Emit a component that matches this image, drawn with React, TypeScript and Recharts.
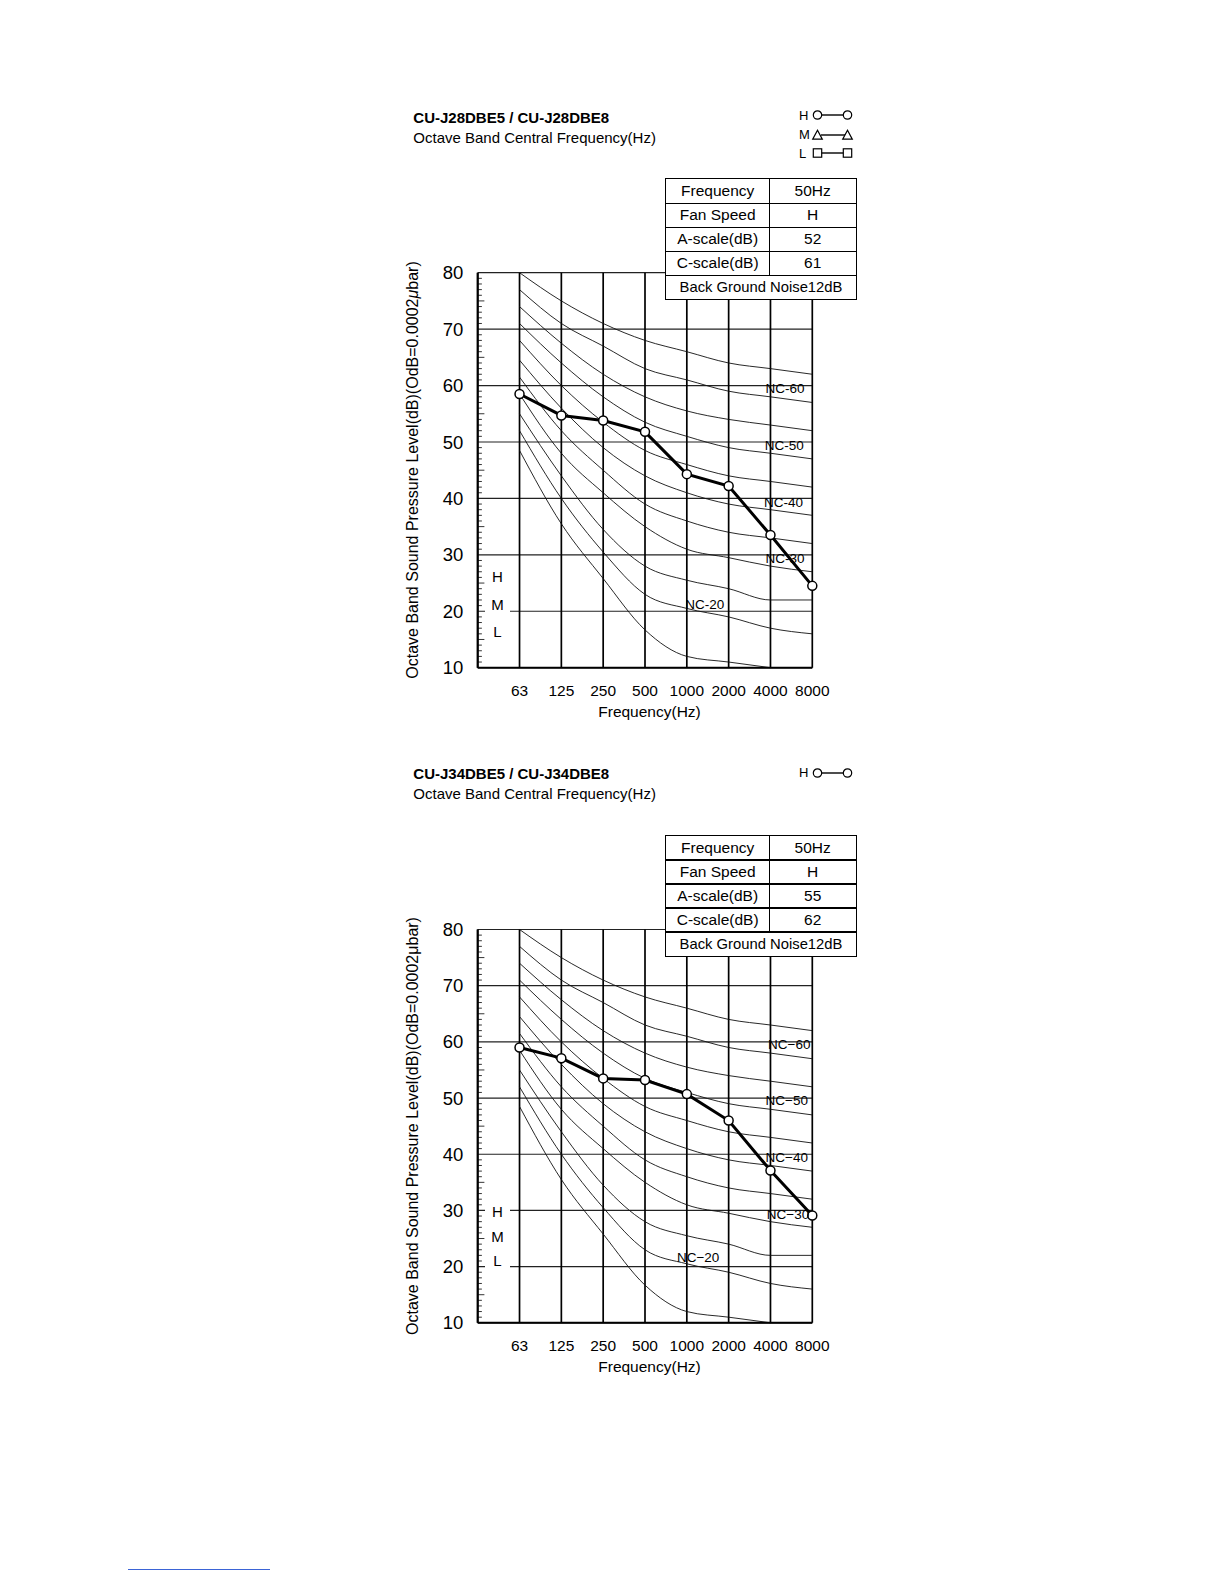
import React from "react";
import { LineChart, Line, XAxis, YAxis, CartesianGrid, ReferenceDot, ReferenceLine } from "recharts";

const FONT = '"Liberation Sans", Arial, Helvetica, sans-serif';

// octave band centres
const freqLabels = ["63", "125", "250", "500", "1000", "2000", "4000", "8000"];
const yTicks = [10, 20, 30, 40, 50, 60, 70, 80];

// NC curves (dB at each octave band)
const nc65 = [80, 75, 71, 68, 66, 64, 63, 62];
const nc60 = [77, 71, 67, 63, 61, 59, 58, 57];
const nc55 = [74, 67.5, 62, 58, 55.5, 54, 53, 52];
const nc50 = [71, 64, 58, 53.5, 51, 49, 48, 47];
const nc45 = [68, 60, 53.5, 48.5, 46, 44, 43, 42];
const nc40 = [64.5, 56, 49, 44, 41, 39, 38, 37];
const nc35 = [61.5, 52, 45, 39, 36, 34, 33, 32];
const nc30 = [58.5, 48, 41, 35, 31, 29.5, 28, 27];
const nc25 = [55, 44, 34.5, 28, 25.5, 24, 22, 22];
const nc20 = [52, 40, 30.5, 23, 20.5, 19, 17, 16];
const nc15 = [48.5, 35.5, 25.8, 16.7, 12, 11, 10, null];

const ncKeys = ["nc15", "nc20", "nc25", "nc30", "nc35", "nc40", "nc45", "nc50", "nc55", "nc60", "nc65"];
const ncArrays = [nc15, nc20, nc25, nc30, nc35, nc40, nc45, nc50, nc55, nc60, nc65];

// measured fan speed H
const highJ28 = [58.5, 54.7, 53.8, 51.8, 44.3, 42.2, 33.5, 24.5];
const highJ34 = [59.0, 57.1, 53.5, 53.2, 50.7, 46.0, 37.1, 29.1];

const tableLabels = ["Frequency", "Fan Speed", "A-scale(dB)", "C-scale(dB)"];
const tableJ28 = ["50Hz", "H", "52", "61"];
const tableJ34 = ["50Hz", "H", "55", "62"];
const noiseNote = "Back Ground Noise12dB";

const ncLabelNames = ["60", "50", "40", "30", "20"];

// small scale marks on the inside of the dB axis
const minorTicks: number[] = [];
for (let v = 11; v < 80; v++) if (v % 10 !== 0) minorTicks.push(v);

const PLOT_L = 477.7;
const PLOT_R = 812.3;

function buildRows(high: number[]) {
  return freqLabels.map((_, i) => {
    const row: any = { x: i, h: high[i] };
    ncKeys.forEach((k, j) => {
      row[k] = ncArrays[j][i];
    });
    return row;
  });
}

function Txt({ x, y, fs, children, align = "left", bold = false, bg }: any) {
  const tx = align === "center" ? "-50%" : align === "right" ? "-100%" : "0";
  return (
    <div
      style={{
        position: "absolute",
        left: x,
        top: y - fs / 2,
        height: fs,
        lineHeight: `${fs}px`,
        fontSize: fs,
        fontWeight: bold ? 700 : 400,
        whiteSpace: "nowrap",
        transform: `translateX(${tx})`,
        background: bg,
        color: "#000",
        fontFamily: FONT,
      }}
    >
      {children}
    </div>
  );
}

function Marker({ kind, cx, cy }: any) {
  if (kind === "o") return <circle cx={cx} cy={cy} r={4.2} fill="#fff" stroke="#000" strokeWidth={1.2} />;
  if (kind === "t")
    return (
      <polygon
        points={`${cx - 4.8},${cy + 4.2} ${cx + 4.8},${cy + 4.2} ${cx},${cy - 4.8}`}
        fill="#fff"
        stroke="#000"
        strokeWidth={1.2}
      />
    );
  return <rect x={cx - 4.2} y={cy - 4.2} width={8.4} height={8.4} fill="#fff" stroke="#000" strokeWidth={1.2} />;
}

function Legend({ rows }: any) {
  return (
    <>
      {rows.map((r: any) => (
        <React.Fragment key={r.name}>
          <Txt x={799} y={r.y} fs={13}>
            {r.name}
          </Txt>
          <svg style={{ position: "absolute", left: 810, top: r.y - 7, overflow: "visible" }} width={45} height={14}>
            <line x1={11} y1={7} x2={37} y2={7} stroke="#000" strokeWidth={1.4} />
            <Marker kind={r.kind} cx={7.5} cy={7} />
            <Marker kind={r.kind} cx={37.5} cy={7} />
          </svg>
        </React.Fragment>
      ))}
    </>
  );
}

function InfoTable({ values }: any) {
  const L = 666;
  const C = 769.3;
  const R = 856;
  const T = 179.3;
  const H = 24;
  const cells: any[] = [];
  tableLabels.forEach((lab, i) => {
    cells.push(
      <div key={"l" + i} style={{ position: "absolute", left: 0, top: i * H, width: C - L, height: H, display: "flex", alignItems: "center", justifyContent: "center" }}>
        {lab}
      </div>
    );
    cells.push(
      <div key={"v" + i} style={{ position: "absolute", left: C - L, top: i * H, width: R - C, height: H, display: "flex", alignItems: "center", justifyContent: "center" }}>
        {values[i]}
      </div>
    );
  });
  return (
    <div style={{ position: "absolute", left: L, top: T, width: R - L, height: H * 5, background: "#fff", fontFamily: FONT, fontSize: 15.5, color: "#000" }}>
      {cells}
      <div style={{ position: "absolute", left: 0, top: 4 * H, width: R - L, height: H, display: "flex", alignItems: "center", justifyContent: "center", fontSize: 14.8 }}>
        {noiseNote}
      </div>
      {[1, 2, 3, 4].map((i) => (
        <div key={"h" + i} style={{ position: "absolute", left: 0, top: i * H - 0.75, width: R - L, height: 1.5, background: "#000" }} />
      ))}
      <div style={{ position: "absolute", left: C - L - 0.75, top: 0, width: 1.5, height: 4 * H, background: "#000" }} />
      <div style={{ position: "absolute", left: -1, top: -1, width: R - L + 2, height: H * 5 + 2, border: "1.8px solid #000", boxSizing: "border-box" }} />
    </div>
  );
}

function NoiseChart({ offset, plotTop, plotBottom, title, high, table, legendRows, hml, ncPos, dash, italicMu }: any) {
  const rows = buildRows(high);
  const chartH = plotBottom + 70;
  const xAxisH = 30;
  const mid = (plotTop + plotBottom) / 2;
  return (
    <div style={{ position: "absolute", left: 0, top: offset, width: 1224, height: chartH }}>
      <div style={{ position: "absolute", left: 0, top: 0 }}>
        <LineChart
          width={1224}
          height={chartH}
          data={rows}
          margin={{ top: plotTop, left: PLOT_L - 50, right: 1224 - PLOT_R, bottom: chartH - plotBottom - xAxisH }}
        >
          <CartesianGrid vertical={false} stroke="#222" strokeWidth={1.2} />
          <CartesianGrid horizontal={false} stroke="#000" strokeWidth={1.7} />
          <XAxis
            dataKey="x"
            type="number"
            domain={[-1, 7]}
            ticks={freqLabels.map((_, i) => i)}
            tickFormatter={(v: number) => freqLabels[v]}
            interval={0}
            height={xAxisH}
            tickLine={false}
            tickSize={0}
            tickMargin={17}
            axisLine={{ stroke: "#000", strokeWidth: 2 }}
            tick={{ fontSize: 15.5, fill: "#000", fontFamily: FONT }}
          />
          <YAxis
            type="number"
            domain={[10, 80]}
            ticks={yTicks}
            interval={0}
            width={50}
            tickLine={false}
            tickSize={0}
            tickMargin={14.5}
            axisLine={{ stroke: "#000", strokeWidth: 2 }}
            tick={{ fontSize: 18.5, fill: "#000", fontFamily: FONT }}
          />
          {minorTicks.map((v) => (
            <ReferenceLine
              key={"m" + v}
              segment={[
                { x: -1, y: v },
                { x: v % 5 === 0 ? -0.84 : -0.9, y: v },
              ]}
              stroke="#000"
              strokeWidth={0.8}
            />
          ))}
          {ncKeys.map((k) => (
            <Line key={k} dataKey={k} type="monotone" stroke="#111" strokeWidth={0.9} dot={false} isAnimationActive={false} />
          ))}
          <Line
            dataKey="h"
            type="linear"
            stroke="#000"
            strokeWidth={3}
            dot={{ r: 4.5, fill: "#fff", stroke: "#000", strokeWidth: 1.5 }}
            isAnimationActive={false}
          />
          {ncPos.map((p: any, i: number) => (
            <ReferenceDot
              key={i}
              x={p[0]}
              y={p[1]}
              r={0.1}
              fill="none"
              stroke="none"
              label={{ value: `NC${dash}${ncLabelNames[i]}`, position: "center", fontSize: 13.5, fill: "#000", fontFamily: FONT }}
            />
          ))}
        </LineChart>
      </div>

      <Txt x={413.3} y={117.2} fs={15} bold>
        {title}
      </Txt>
      <Txt x={413.3} y={137.2} fs={15}>
        Octave Band Central Frequency(Hz)
      </Txt>
      <Legend rows={legendRows} />
      <InfoTable values={table} />

      {hml.map((m: any) => (
        <div
          key={m.t}
          style={{
            position: "absolute",
            left: 485,
            top: m.y - 7.5,
            width: 25,
            height: 15,
            lineHeight: "15px",
            textAlign: "center",
            fontSize: 15,
            fontFamily: FONT,
            background: m.mask ? "#fff" : "transparent",
            color: "#000",
          }}
        >
          {m.t}
        </div>
      ))}

      <div
        style={{
          position: "absolute",
          left: 413,
          top: mid,
          transform: "translate(-50%, -50%) rotate(-90deg)",
          fontSize: 16,
          lineHeight: "18px",
          whiteSpace: "nowrap",
          fontFamily: FONT,
          color: "#000",
        }}
      >
        Octave Band Sound Pressure Level(dB)(OdB=0.0002{italicMu ? <i>μ</i> : "μ"}bar)
      </div>
      <Txt x={649.5} y={plotBottom + 44.5} fs={15.5} align="center">
        Frequency(Hz)
      </Txt>
    </div>
  );
}

export default function App() {
  return (
    <div style={{ position: "absolute", left: 0, top: 0, width: 1224, height: 1584, background: "#fff", overflow: "hidden" }}>
      <NoiseChart
        offset={0}
        plotTop={272.7}
        plotBottom={667.7}
        title="CU-J28DBE5 / CU-J28DBE8"
        high={highJ28}
        table={tableJ28}
        dash="-"
        italicMu
        legendRows={[
          { name: "H", kind: "o", y: 115 },
          { name: "M", kind: "t", y: 134.5 },
          { name: "L", kind: "s", y: 153.3 },
        ]}
        hml={[
          { t: "H", y: 576.7, mask: false },
          { t: "M", y: 604.3, mask: true },
          { t: "L", y: 631.7, mask: false },
        ]}
        ncPos={[
          [6.35, 59.5],
          [6.33, 49.5],
          [6.31, 39.4],
          [6.35, 29.4],
          [4.43, 21.3],
        ]}
      />
      <NoiseChart
        offset={656.5}
        plotTop={272.5}
        plotBottom={665.8}
        title="CU-J34DBE5 / CU-J34DBE8"
        high={highJ34}
        table={tableJ34}
        dash="−"
        legendRows={[{ name: "H", kind: "o", y: 116 }]}
        hml={[
          { t: "H", y: 555.2, mask: true },
          { t: "M", y: 580.2, mask: false },
          { t: "L", y: 604.2, mask: true },
        ]}
        ncPos={[
          [6.45, 59.5],
          [6.39, 49.6],
          [6.39, 39.5],
          [6.42, 29.4],
          [4.27, 21.6],
        ]}
      />
      <div style={{ position: "absolute", left: 128, top: 1569, width: 142, height: 1, background: "#3b64d6" }} />
    </div>
  );
}
